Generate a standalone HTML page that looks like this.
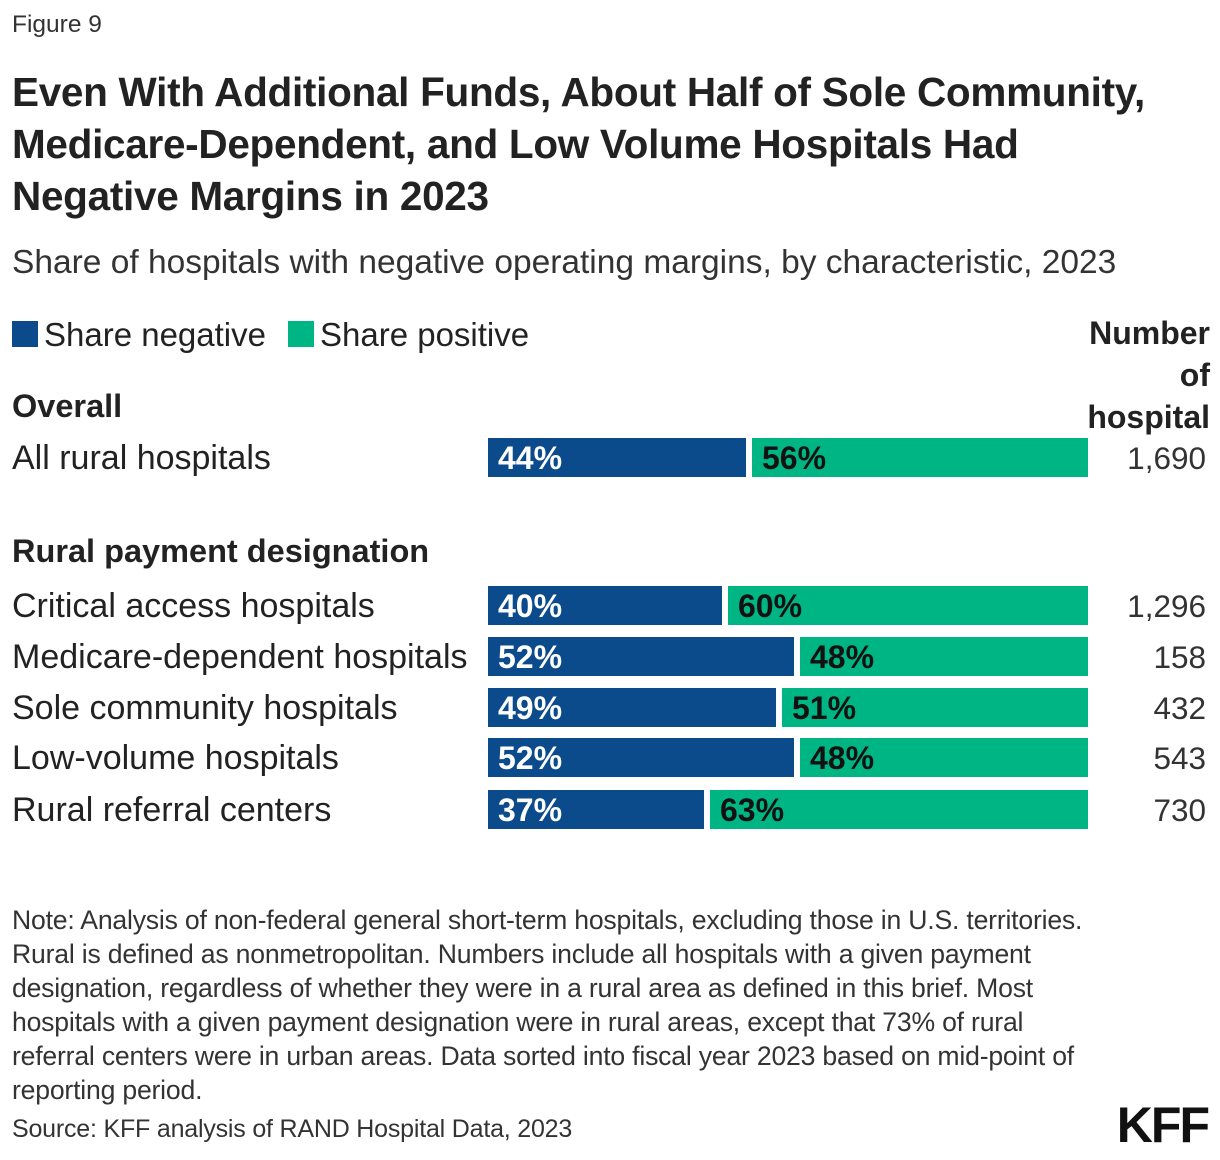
<!DOCTYPE html>
<html><head><meta charset="utf-8"><style>
body{margin:0;width:1220px;height:1160px;background:#fff;font-family:"Liberation Sans",sans-serif;color:#222;position:relative;overflow:hidden}
.a{position:absolute;white-space:nowrap}
.fig{left:12px;top:11px;font-size:24.5px;color:#333}
.title{left:12px;top:66px;font-size:40.5px;font-weight:bold;line-height:52px;color:#222;letter-spacing:-0.3px}
.sub{left:12px;top:244px;font-size:33.5px;color:#333}
.leg{top:316px;font-size:33px;color:#222}
.sw{position:absolute;width:26px;height:26px}
.lab{left:12px;font-size:34px;color:#222}
.hd{left:12px;font-size:32.5px;font-weight:bold;color:#222}
.num{right:14px;font-size:31.5px;color:#333;text-align:right}
.note{left:12px;top:903px;font-size:26.6px;line-height:34px;color:#333;letter-spacing:-0.2px}
.src{left:12px;top:1115px;font-size:25px;color:#333;letter-spacing:-0.2px}
.kff{right:12px;top:1096px;font-size:50px;font-weight:bold;color:#111;letter-spacing:-2px}
svg text{font-family:"Liberation Sans",sans-serif;font-weight:bold;font-size:32px}
</style></head><body>
<div class="a fig">Figure 9</div>
<div class="a title">Even With Additional Funds, About Half of Sole Community,<br>Medicare-Dependent, and Low Volume Hospitals Had<br>Negative Margins in 2023</div>
<div class="a sub">Share of hospitals with negative operating margins, by characteristic, 2023</div>
<div class="sw" style="left:12px;top:321px;background:#0b4a8b"></div>
<div class="a leg" style="left:44px">Share negative</div>
<div class="sw" style="left:288px;top:321px;background:#00b584"></div>
<div class="a leg" style="left:320px">Share positive</div>
<div class="a" style="right:10px;top:312px;font-size:32px;font-weight:bold;text-align:right;line-height:42px;color:#222">Number<br>of<br>hospital</div>
<div class="a hd" style="top:388px">Overall</div>
<div class="a hd" style="top:533px">Rural payment designation</div>
<div id="rows"></div>
<svg id="chart" class="a" style="left:0;top:0" width="1220" height="1160"></svg>
<div class="a note">Note: Analysis of non-federal general short-term hospitals, excluding those in U.S. territories.<br>Rural is defined as nonmetropolitan. Numbers include all hospitals with a given payment<br>designation, regardless of whether they were in a rural area as defined in this brief. Most<br>hospitals with a given payment designation were in rural areas, except that 73% of rural<br>referral centers were in urban areas. Data sorted into fiscal year 2023 based on mid-point of<br>reporting period.</div>
<div class="a src">Source: KFF analysis of RAND Hospital Data, 2023</div>
<div class="a kff">KFF</div>
<script>
const categories=["All rural hospitals","Critical access hospitals","Medicare-dependent hospitals","Sole community hospitals","Low-volume hospitals","Rural referral centers"];
const negative=[44,40,52,49,52,37];
const positive=[56,60,48,51,48,63];
const counts=["1,690","1,296","158","432","543","730"];
const rowTops=[438,586,637,688,738,790];
const NS="http://www.w3.org/2000/svg";
const svg=document.getElementById('chart');
const x0=488,W=600,H=39,gap=6;
const xs=v=>x0+v/100*W;
const rows=document.getElementById('rows');
categories.forEach((c,i)=>{
  const y=rowTops[i];
  const t=document.createElement('div');t.className='a lab';t.style.top=(y+1)+'px';t.textContent=c;
  
  
  rows.appendChild(t);
  const n=document.createElement('div');n.className='a num';n.style.top=(y+2)+'px';n.textContent=counts[i];
  
  
  rows.appendChild(n);
  const tot=negative[i]+positive[i];
  const split=xs(negative[i]/tot*100);
  const r1=document.createElementNS(NS,'rect');
  r1.setAttribute('x',x0);r1.setAttribute('y',y);r1.setAttribute('width',split-x0-gap);r1.setAttribute('height',H);r1.setAttribute('fill','#0b4a8b');
  
  
  svg.appendChild(r1);
  const r2=document.createElementNS(NS,'rect');
  r2.setAttribute('x',split);r2.setAttribute('y',y);r2.setAttribute('width',xs(100)-split);r2.setAttribute('height',H);r2.setAttribute('fill','#00b584');
  
  
  svg.appendChild(r2);
  const l1=document.createElementNS(NS,'text');
  l1.setAttribute('x',x0+10);l1.setAttribute('y',y+31);l1.setAttribute('fill','#fff');l1.textContent=negative[i]+'%';
  
  
  svg.appendChild(l1);
  const l2=document.createElementNS(NS,'text');
  l2.setAttribute('x',split+10);l2.setAttribute('y',y+31);l2.setAttribute('fill','#111');l2.textContent=positive[i]+'%';
  
  
  svg.appendChild(l2);
});
</script>
</body></html>
